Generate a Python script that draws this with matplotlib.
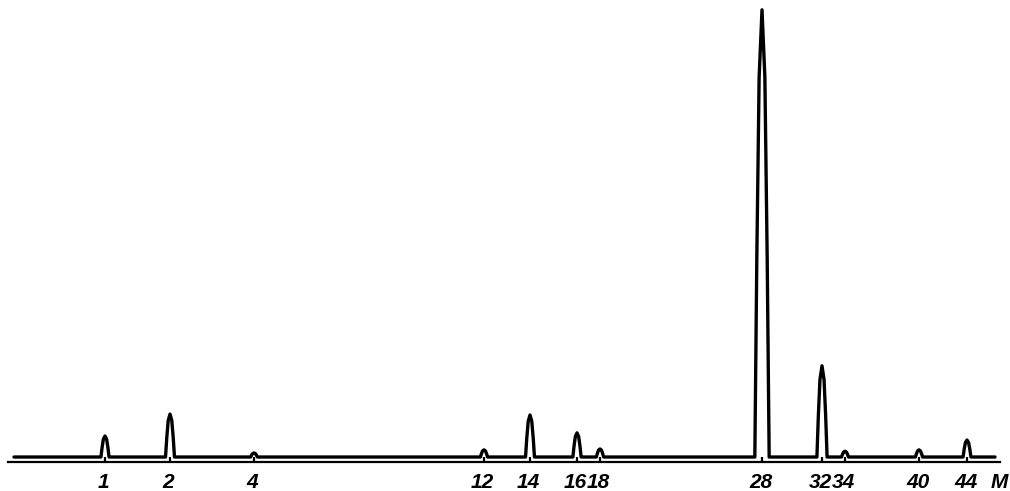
import numpy as np
import matplotlib

matplotlib.use("Agg")
import matplotlib.pyplot as plt  # noqa: E402

# mass spectrum: mass numbers, position along the recorder scan, relative peak height (M=28 -> 100)
masses = [1, 2, 4, 12, 14, 16, 18, 28, 32, 34, 40, 44]
scan_pos = [105, 170, 254, 484, 530, 577, 600, 762, 822, 845, 919, 967]
intensity = [4.7, 9.6, 0.9, 1.6, 9.4, 5.4, 1.8, 100.0, 20.4, 1.3, 1.6, 3.8]
scan_range = (14, 995)

fig = plt.figure(figsize=(10.10, 4.91), dpi=100)
ax = fig.add_axes([0, 0, 1, 1])
ax.set_xlim(0, 1010)
ax.set_ylim(-7.6, 102.2)
ax.axis("off")

# recorder trace as one polyline: flat baseline broken by narrow peaks
xs, ys = [scan_range[0]], [0.0]
for x0, h in zip(scan_pos, intensity):
    w = 5.5 + 1.4 * h ** 0.4  # base width grows a bit with height
    for fx, fy in [(-0.5, 0), (-0.36, 0.45), (-0.2, 0.85), (0, 1),
                   (0.2, 0.85), (0.36, 0.45), (0.5, 0)]:
        xs.append(x0 + fx * w)
        ys.append(fy * h)
xs.append(scan_range[1])
ys.append(0.0)
ax.plot(xs, ys, color="k", lw=2.4, solid_joinstyle="round", solid_capstyle="round")

# mass axis below the trace, with a short tick under each peak
axis_y = -1.15
ax.plot([8, 1000], [axis_y, axis_y], color="k", lw=1.6)
ax.vlines(scan_pos, axis_y, -0.1, color="k", lw=1.6)

lab = dict(ha="center", va="center", fontsize=15, fontstyle="italic",
           fontweight="bold", family="Liberation Sans")
for x0, m in zip(scan_pos, masses):
    ax.text(x0 - 1.5, -5.8, str(m), **lab)
ax.text(999, -5.8, "M", **lab)

fig.savefig("out.png", dpi=100)
plt.close(fig)
